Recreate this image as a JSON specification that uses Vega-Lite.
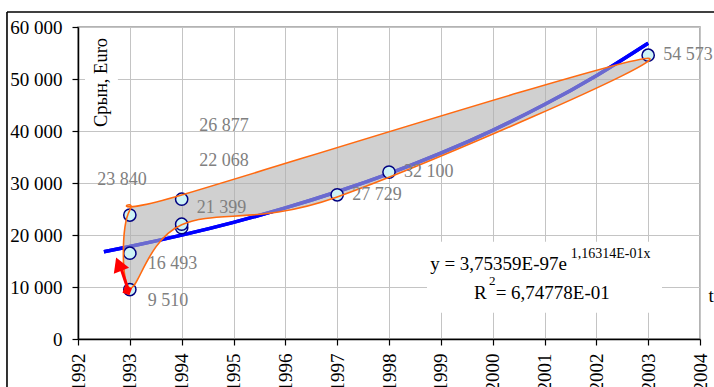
{
  "$schema": "https://vega.github.io/schema/vega-lite/v6.json",
  "width": 622,
  "height": 312,
  "autosize": {"type": "none"},
  "padding": {"left": 78, "top": 27, "right": 14, "bottom": 48},
  "background": "white",
  "config": {
    "view": {"stroke": "#9a9a9a", "strokeWidth": 1.5},
    "font": "Liberation Serif",
    "axis": {
      "labelFont": "Liberation Serif",
      "labelFontSize": 19,
      "labelColor": "#000000",
      "domainColor": "#000000",
      "domainWidth": 1.5,
      "tickColor": "#000000",
      "tickSize": 6,
      "tickWidth": 1.2,
      "gridColor": "#c4c4c4",
      "gridWidth": 1,
      "titleOpacity": 0
    }
  },
  "data": {"values": [{}]},
  "datasets": {
    "points": [
      {"yr": 1993, "v": 9510, "lab": "9 510"},
      {"yr": 1993, "v": 16493, "lab": "16 493"},
      {"yr": 1993, "v": 23840, "lab": "23 840"},
      {"yr": 1994, "v": 21399, "lab": "21 399"},
      {"yr": 1994, "v": 22068, "lab": "22 068"},
      {"yr": 1994, "v": 26877, "lab": "26 877"},
      {"yr": 1997, "v": 27729, "lab": "27 729"},
      {"yr": 1998, "v": 32100, "lab": "32 100"},
      {"yr": 2003, "v": 54573, "lab": "54 573"}
    ],
    "trend": [
      {"t": 1992.5, "v": 16774},
      {"t": 1993, "v": 17779},
      {"t": 1994, "v": 19972},
      {"t": 1995, "v": 22435},
      {"t": 1996, "v": 25203},
      {"t": 1997, "v": 28312},
      {"t": 1998, "v": 31804},
      {"t": 1999, "v": 35726},
      {"t": 2000, "v": 40133},
      {"t": 2001, "v": 45084},
      {"t": 2002, "v": 50643},
      {"t": 2003, "v": 56892}
    ],
    "hull": [
      {"ord": 1, "t": 1993, "v": 9800},
      {"ord": 2, "t": 1993, "v": 24800},
      {"ord": 3, "t": 1994, "v": 27700},
      {"ord": 4, "t": 2003, "v": 54000},
      {"ord": 5, "t": 1997, "v": 27300},
      {"ord": 6, "t": 1994, "v": 21960}
    ]
  },
  "layer": [
    {
      "data": {"name": "trend"},
      "mark": {"type": "line", "color": "#0000ff", "strokeWidth": 3.5, "interpolate": "monotone"},
      "encoding": {
        "x": {
          "field": "t", "type": "quantitative", "title": null,
          "scale": {"domain": [1992, 2004], "nice": false, "zero": false},
          "axis": {"values": [1992,1993,1994,1995,1996,1997,1998,1999,2000,2001,2002,2003,2004], "format": "d", "labelAngle": -90, "labelPadding": 8, "grid": true}
        },
        "y": {
          "field": "v", "type": "quantitative", "title": null,
          "scale": {"domain": [0, 60000], "nice": false, "zero": false},
          "axis": {"values": [0,10000,20000,30000,40000,50000,60000], "labelExpr": "replace(format(datum.value, ','), ',', ' ')", "labelPadding": 10, "grid": true}
        }
      }
    },
    {
      "mark": {"type": "rule", "color": "#000000", "strokeWidth": 1.6},
      "encoding": {
        "x": {"datum": 1990.63, "type": "quantitative"},
        "x2": {"datum": 2006},
        "y": {"datum": 62885, "type": "quantitative"}
      }
    },
    {
      "mark": {"type": "rule", "color": "#000000", "strokeWidth": 1.6},
      "encoding": {
        "x": {"datum": 1990.63, "type": "quantitative"},
        "y": {"datum": 62885, "type": "quantitative"},
        "y2": {"datum": -15000}
      }
    },
    {
      "mark": {"type": "rect", "color": "#ffffff"},
      "encoding": {
        "x": {"datum": 1992.135, "type": "quantitative"},
        "x2": {"datum": 1992.77},
        "y": {"datum": 57885, "type": "quantitative"},
        "y2": {"datum": 40770}
      }
    },
    {
      "mark": {"type": "rect", "color": "#ffffff"},
      "encoding": {
        "x": {"datum": 1998.733, "type": "quantitative"},
        "x2": {"datum": 2003.267},
        "y": {"datum": 18712, "type": "quantitative"},
        "y2": {"datum": 5058}
      }
    },
    {
      "data": {"name": "trend"},
      "mark": {"type": "line", "color": "#0000ff", "strokeWidth": 3.5, "interpolate": "monotone"},
      "encoding": {
        "x": {"field": "t", "type": "quantitative"},
        "y": {"field": "v", "type": "quantitative"}
      }
    },
    {
      "data": {"name": "hull"},
      "mark": {"type": "line", "interpolate": "cardinal-closed", "tension": 0, "filled": true, "fill": "#b0b0b0", "fillOpacity": 0.6, "strokeOpacity": 0},
      "encoding": {
        "x": {"field": "t", "type": "quantitative"},
        "y": {"field": "v", "type": "quantitative"},
        "order": {"field": "ord"}
      }
    },
    {
      "data": {"name": "points"},
      "mark": {"type": "point", "shape": "circle", "filled": true, "fill": "#cdf3f6", "stroke": "#000080", "strokeWidth": 1.5, "size": 150, "opacity": 1},
      "encoding": {
        "x": {"field": "yr", "type": "quantitative"},
        "y": {"field": "v", "type": "quantitative"}
      }
    },
    {
      "data": {"name": "hull"},
      "mark": {"type": "line", "interpolate": "cardinal-closed", "tension": 0, "stroke": "#ff6a10", "strokeWidth": 1.6},
      "encoding": {
        "x": {"field": "t", "type": "quantitative"},
        "y": {"field": "v", "type": "quantitative"},
        "order": {"field": "ord"}
      }
    },
    {
      "data": {"name": "points"},
      "transform": [{"filter": {"field": "v", "oneOf": [27729, 32100, 54573]}}],
      "mark": {"type": "text", "align": "left", "baseline": "alphabetic", "dx": 15, "dy": 5, "fontSize": 18, "color": "#808080"},
      "encoding": {"x": {"field": "yr", "type": "quantitative"}, "y": {"field": "v", "type": "quantitative"}, "text": {"field": "lab"}}
    },
    {
      "data": {"name": "points"},
      "transform": [{"filter": {"field": "v", "oneOf": [9510, 16493]}}],
      "mark": {"type": "text", "align": "left", "baseline": "alphabetic", "dx": 18, "dy": 16, "fontSize": 18, "color": "#808080"},
      "encoding": {"x": {"field": "yr", "type": "quantitative"}, "y": {"field": "v", "type": "quantitative"}, "text": {"field": "lab"}}
    },
    {
      "data": {"name": "points"},
      "transform": [{"filter": {"field": "v", "oneOf": [21399]}}],
      "mark": {"type": "text", "align": "left", "baseline": "alphabetic", "dx": 15, "dy": -15, "fontSize": 18, "color": "#808080"},
      "encoding": {"x": {"field": "yr", "type": "quantitative"}, "y": {"field": "v", "type": "quantitative"}, "text": {"field": "lab"}}
    },
    {
      "data": {"name": "points"},
      "transform": [{"filter": {"field": "v", "oneOf": [22068]}}],
      "mark": {"type": "text", "align": "left", "baseline": "alphabetic", "dx": 17.6, "dy": -58.5, "fontSize": 18, "color": "#808080"},
      "encoding": {"x": {"field": "yr", "type": "quantitative"}, "y": {"field": "v", "type": "quantitative"}, "text": {"field": "lab"}}
    },
    {
      "data": {"name": "points"},
      "transform": [{"filter": {"field": "v", "oneOf": [26877]}}],
      "mark": {"type": "text", "align": "left", "baseline": "alphabetic", "dx": 17.6, "dy": -68, "fontSize": 18, "color": "#808080"},
      "encoding": {"x": {"field": "yr", "type": "quantitative"}, "y": {"field": "v", "type": "quantitative"}, "text": {"field": "lab"}}
    },
    {
      "data": {"name": "points"},
      "transform": [{"filter": {"field": "v", "oneOf": [23840]}}],
      "mark": {"type": "text", "align": "left", "baseline": "alphabetic", "dx": -32.5, "dy": -30, "fontSize": 18, "color": "#808080"},
      "encoding": {"x": {"field": "yr", "type": "quantitative"}, "y": {"field": "v", "type": "quantitative"}, "text": {"field": "lab"}}
    },
    {
      "mark": {"type": "rule", "color": "#ff0000", "strokeWidth": 3},
      "encoding": {
        "x": {"datum": 1992.97, "type": "quantitative"},
        "y": {"datum": 9400, "type": "quantitative"},
        "x2": {"datum": 1992.82},
        "y2": {"datum": 13900}
      }
    },
    {
      "mark": {"type": "point", "shape": "triangle-up", "filled": true, "color": "#ff0000", "size": 270, "angle": 338, "opacity": 1},
      "encoding": {
        "x": {"datum": 1992.787, "type": "quantitative"},
        "y": {"datum": 14400, "type": "quantitative"}
      }
    },
    {
      "mark": {"type": "point", "shape": "square", "filled": true, "color": "#ff0000", "size": 55, "angle": 20, "opacity": 1},
      "encoding": {
        "x": {"datum": 1992.95, "type": "quantitative"},
        "y": {"datum": 9340, "type": "quantitative"}
      }
    },
    {
      "mark": {"type": "text", "text": "Срын, Euro", "angle": 270, "align": "center", "baseline": "middle", "fontSize": 18.5, "color": "#000000"},
      "encoding": {
        "x": {"datum": 1992.438, "type": "quantitative"},
        "y": {"datum": 49330, "type": "quantitative"}
      }
    },
    {
      "mark": {"type": "text", "text": "t", "align": "left", "baseline": "alphabetic", "fontSize": 19, "color": "#000000"},
      "encoding": {
        "x": {"datum": 2004.164, "type": "quantitative"},
        "y": {"datum": 7173, "type": "quantitative"}
      }
    },
    {
      "mark": {"type": "text", "text": "y = 3,75359E-97e", "align": "right", "baseline": "alphabetic", "fontSize": 19, "color": "#000000"},
      "encoding": {
        "x": {"datum": 2001.434, "type": "quantitative"},
        "y": {"datum": 13270, "type": "quantitative"}
      }
    },
    {
      "mark": {"type": "text", "text": "1,16314E-01x", "align": "left", "baseline": "alphabetic", "fontSize": 14, "color": "#000000"},
      "encoding": {
        "x": {"datum": 2001.505, "type": "quantitative"},
        "y": {"datum": 15520, "type": "quantitative"}
      }
    },
    {
      "mark": {"type": "text", "text": "R", "align": "left", "baseline": "alphabetic", "fontSize": 19, "color": "#000000"},
      "encoding": {
        "x": {"datum": 1999.64, "type": "quantitative"},
        "y": {"datum": 7635, "type": "quantitative"}
      }
    },
    {
      "mark": {"type": "text", "text": "2", "align": "left", "baseline": "alphabetic", "fontSize": 13, "color": "#000000"},
      "encoding": {
        "x": {"datum": 1999.93, "type": "quantitative"},
        "y": {"datum": 10385, "type": "quantitative"}
      }
    },
    {
      "mark": {"type": "text", "text": "= 6,74778E-01", "align": "right", "baseline": "alphabetic", "fontSize": 19, "color": "#000000"},
      "encoding": {
        "x": {"datum": 2002.26, "type": "quantitative"},
        "y": {"datum": 7635, "type": "quantitative"}
      }
    }
  ]
}
